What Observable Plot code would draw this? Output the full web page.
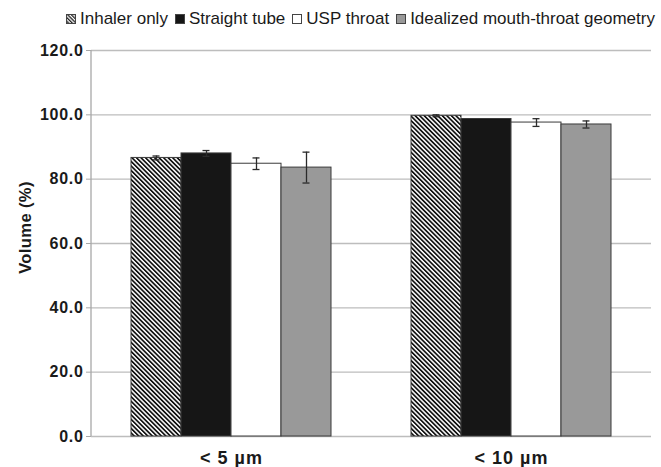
<!DOCTYPE html>
<html>
<head>
<meta charset="utf-8">
<script src="https://cdn.jsdelivr.net/npm/d3@7"></script>
<script src="https://cdn.jsdelivr.net/npm/@observablehq/plot@0.6"></script>
<style>
  html, body { margin: 0; padding: 0; background: #fff; }
  #wrap { width: 661px; height: 467px; position: relative; font-family: "Liberation Sans", Arial, sans-serif; color: #1a1a1a; }
  #legend { height: 36px; display: flex; align-items: center; padding-left: 66px; box-sizing: border-box; font-size: 17px; padding-top: 2px; white-space: nowrap; }
  #legend .item { display: flex; align-items: center; margin-right: 7px; }
  #legend svg { margin-right: 4px; display: block; }
  #chart svg text { letter-spacing: 0.7px; }
</style>
</head>
<body>
<div id="wrap">
  <div id="legend"></div>
  <div id="chart"></div>
</div>
<script>
// ---- data ----
const categories = ["< 5 µm", "< 10 µm"];
const series = ["Inhaler only", "Straight tube", "USP throat", "Idealized mouth-throat geometry"];
const inhalerOnly = [86.6, 99.7];
const inhalerOnlyErr = [0.6, 0.3];
const straightTube = [88.0, 98.7];
const straightTubeErr = [0.9, 0.0];
const uspThroat = [84.8, 97.6];
const uspThroatErr = [1.8, 1.2];
const idealized = [83.6, 97.0];
const idealizedErr = [4.8, 1.1];
const yTicks = [0, 20, 40, 60, 80, 100, 120];

const values = [inhalerOnly, straightTube, uspThroat, idealized];
const errors = [inhalerOnlyErr, straightTubeErr, uspThroatErr, idealizedErr];
const rows = categories.flatMap((c, i) => series.map((s, j) => ({
  category: c, series: s, value: values[j][i], err: errors[j][i]
})));
const errRows = rows.filter(d => d.err > 0);

const fills = ["url(#hatch)", "#161616", "#ffffff", "#999999"];

const plot = Plot.plot({
  width: 661,
  height: 431,
  marginLeft: 91,
  marginRight: 10,
  marginTop: 14,
  marginBottom: 31,
  style: { fontFamily: "Liberation Sans, Arial, sans-serif", color: "#1a1a1a", background: "#fff" },
  fx: { domain: categories, padding: 0, label: null },
  x: { domain: series, paddingInner: 0, paddingOuter: 0.76, axis: null },
  y: { domain: [0, 120], label: null },
  color: { domain: series, range: fills },
  marks: [
    Plot.ruleY(yTicks, { stroke: "#bdbdbd", strokeWidth: 1.3 }),
    Plot.axisY({ ticks: yTicks, tickFormat: d3.format(".1f"), tickSize: 5, tickPadding: 3,
      stroke: "#a8a8a8", fontSize: 16, fontWeight: "bold", label: null }),
    Plot.axisFx({ anchor: "bottom", tickSize: 0, tickPadding: 15, fontSize: 18, fontWeight: "bold", label: null }),
    Plot.barY(rows, { fx: "category", x: "series", y: "value", fill: "series",
      stroke: "#3a3a3a", strokeWidth: 1 }),
    Plot.ruleX(errRows, { fx: "category", x: "series", y1: d => d.value - d.err, y2: d => d.value + d.err,
      stroke: "#2a2a2a", strokeWidth: 1.3 }),
    Plot.tickY(errRows, { fx: "category", x: "series", y: d => d.value - d.err,
      insetLeft: 21.5, insetRight: 21.5, stroke: "#2a2a2a", strokeWidth: 1.3 }),
    Plot.tickY(errRows, { fx: "category", x: "series", y: d => d.value + d.err,
      insetLeft: 21.5, insetRight: 21.5, stroke: "#2a2a2a", strokeWidth: 1.3 })
  ]
});

const svg = d3.select(plot);
// hatch pattern
const defs = svg.insert("defs", ":first-child");
const pat = defs.append("pattern").attr("id", "hatch").attr("patternUnits", "userSpaceOnUse")
  .attr("width", 3.2).attr("height", 3.2).attr("patternTransform", "rotate(-45)");
pat.append("rect").attr("width", 3.2).attr("height", 3.2).attr("fill", "#fff");
pat.append("rect").attr("width", 1.7).attr("height", 3.2).attr("fill", "#111");

// left axis line from the y scale
const ys = plot.scale("y");
svg.append("line")
  .attr("x1", 91).attr("x2", 91)
  .attr("y1", ys.apply(0)).attr("y2", ys.apply(120))
  .attr("stroke", "#a8a8a8").attr("stroke-width", 1.3);

svg.selectAll('[aria-label="fx-axis tick label"] text').style("letter-spacing", "1px");

// y axis title
svg.append("text")
  .attr("transform", "translate(31,191.5) rotate(-90)")
  .attr("text-anchor", "middle")
  .attr("font-size", 16.5)
  .attr("font-weight", "bold")
  .attr("fill", "#1a1a1a")
  .style("letter-spacing", "0.4px")
  .text("Volume (%)");

document.getElementById("chart").appendChild(plot);

// legend
const legend = d3.select("#legend");
series.forEach((s, j) => {
  const item = legend.append("div").attr("class", "item");
  const sw = item.append("svg").attr("width", 10).attr("height", 10);
  if (j === 0) {
    const p = sw.append("defs").append("pattern").attr("id", "hatchL").attr("patternUnits", "userSpaceOnUse")
      .attr("width", 2.6).attr("height", 2.6).attr("patternTransform", "rotate(-45)");
    p.append("rect").attr("width", 2.6).attr("height", 2.6).attr("fill", "#fff");
    p.append("rect").attr("width", 1.3).attr("height", 2.6).attr("fill", "#222");
  }
  sw.append("rect").attr("x", 0.5).attr("y", 0.5).attr("width", 9).attr("height", 9)
    .attr("fill", j === 0 ? "url(#hatchL)" : fills[j]).attr("stroke", "#444").attr("stroke-width", 1);
  item.append("span").text(s);
});
</script>
</body>
</html>
